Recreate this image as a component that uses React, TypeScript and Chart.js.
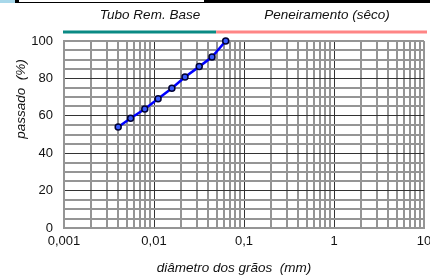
import React, { useEffect, useRef } from "react";
import { Chart, registerables } from "chart.js";

Chart.register(...registerables);

const grainSize = [0.004, 0.0055, 0.0079, 0.0111, 0.0158, 0.0221, 0.0318, 0.0441, 0.0626];
const passing = [54.0, 58.7, 63.6, 69.1, 74.7, 80.7, 86.3, 91.4, 100];

const decades = [0.001, 0.01, 0.1, 1, 10];
const decadeLabels = ["0,001", "0,01", "0,1", "1", "10"];
const yTickValues = [0, 5, 10, 15, 20, 25, 30, 35, 40, 45, 50, 55, 60, 65, 70, 75, 80, 85, 90, 95, 100];
const yLabelValues = [0, 20, 40, 60, 80, 100];

const zoneNames = ["Tubo Rem. Base", "Peneiramento (sêco)"];
const zoneBoundary = 0.049;
const zoneColors = ["#0a8a84", "#ff8585"];

const xTitle = "diâmetro dos grãos  (mm)";
const yTitle = "passado  (%)";

const FONT = "'Liberation Sans', Arial, sans-serif";

function buildXTicks(): number[] {
  const out: number[] = [];
  for (let i = 0; i < decades.length - 1; i++) {
    for (let m = 1; m <= 9; m++) out.push(+(decades[i] * m).toPrecision(6));
  }
  out.push(decades[decades.length - 1]);
  return out;
}

function isDecade(v: number) {
  return decades.some((d) => Math.abs(v - d) / d < 1e-6);
}

const overlay = {
  id: "overlay",
  afterDraw(chart: any) {
    const { ctx, chartArea, scales } = chart;
    const xs = scales.x;
    ctx.save();
    // top spreadsheet strip
    ctx.fillStyle = "#000";
    ctx.fillRect(0, 0, 430, 3);
    ctx.fillStyle = "#fff";
    ctx.fillRect(19, 0, 185, 2);
    ctx.fillStyle = "#a8d8ea";
    ctx.fillRect(0, 0, 15, 3);

    // zone bands
    const bx = xs.getPixelForValue(zoneBoundary);
    ctx.lineWidth = 3;
    ctx.strokeStyle = zoneColors[0];
    ctx.beginPath();
    ctx.moveTo(chartArea.left - 1, 32);
    ctx.lineTo(bx, 32);
    ctx.stroke();
    ctx.strokeStyle = zoneColors[1];
    ctx.beginPath();
    ctx.moveTo(bx, 32);
    ctx.lineTo(chartArea.right + 3, 32);
    ctx.stroke();

    ctx.fillStyle = "#111";
    ctx.font = `italic 13.5px ${FONT}`;
    ctx.textAlign = "center";
    ctx.textBaseline = "middle";
    ctx.fillText(zoneNames[0], 150, 15);
    ctx.fillText(zoneNames[1], 327, 15);

    // axis titles
    ctx.fillText(xTitle, 234, 268);
    ctx.save();
    ctx.translate(21, 99);
    ctx.rotate(-Math.PI / 2);
    ctx.fillText(yTitle, 0, 0);
    ctx.restore();
    ctx.restore();
  },
};

export default function App() {
  const ref = useRef<HTMLCanvasElement>(null);
  useEffect(() => {
    document.body.style.margin = "0";
    const xTicks = buildXTicks();
    const chart = new Chart(ref.current!, {
      type: "scatter",
      data: {
        datasets: [
          {
            data: grainSize.map((x, i) => ({ x, y: passing[i] })),
            showLine: true,
            borderColor: "#0000ff",
            borderWidth: 2.5,
            pointRadius: 3,
            pointBorderWidth: 1.5,
            pointBorderColor: "#000033",
            pointBackgroundColor: "#3a5cff",
            tension: 0,
            clip: 6,
          } as any,
        ],
      },
      options: {
        responsive: false,
        animation: false,
        layout: { padding: { top: 41, right: 6, left: 0, bottom: 0 } },
        plugins: { legend: { display: false }, tooltip: { enabled: false } },
        scales: {
          x: {
            type: "logarithmic",
            min: 0.001,
            max: 10,
            afterBuildTicks: (s: any) => {
              s.ticks = xTicks.map((v) => ({ value: v, major: isDecade(v) }));
            },
            afterFit: (s: any) => {
              s.height = 48;
              s.paddingLeft = 0;
              s.paddingRight = 0;
            },
            ticks: {
              autoSkip: false,
              maxRotation: 0,
              minRotation: 0,
              padding: 6,
              color: "#111",
              font: { family: FONT, size: 13 },
              callback: (v: any) => {
                const i = decades.findIndex((d) => Math.abs(Number(v) - d) / d < 1e-6);
                return i >= 0 ? decadeLabels[i] : "";
              },
            },
            grid: {
              drawTicks: false,
              color: (c: any) => {
                const v = c.tick?.value;
                if (v === undefined) return "#999";
                if (isDecade(v) && v !== 0.001 && v !== 10) return "#333";
                return "#959595";
              },
              lineWidth: (c: any) => {
                const v = c.tick?.value;
                if (v !== undefined && isDecade(v) && v !== 0.001 && v !== 10) return 1;
                return 2;
              },
            },
            border: { display: true, color: "#959595", width: 2 },
          },
          y: {
            type: "linear",
            min: 0,
            max: 100,
            afterBuildTicks: (s: any) => {
              s.ticks = yTickValues.map((v) => ({ value: v }));
            },
            afterFit: (s: any) => {
              s.width = 64;
            },
            ticks: {
              autoSkip: false,
              padding: 11,
              color: "#111",
              font: { family: FONT, size: 13 },
              callback: (v: any) => (yLabelValues.includes(Number(v)) ? String(v) : ""),
            },
            grid: {
              drawTicks: false,
              color: (c: any) => {
                const v = c.tick?.value;
                if (v !== undefined && v % 20 === 0 && v !== 0 && v !== 100) return "#333";
                return "#959595";
              },
              lineWidth: (c: any) => {
                const v = c.tick?.value;
                if (v !== undefined && v % 20 === 0 && v !== 0 && v !== 100) return 1;
                return 2;
              },
            },
            border: { display: true, color: "#959595", width: 2 },
          },
        },
      },
      plugins: [overlay],
    });
    return () => chart.destroy();
  }, []);
  return (
    <div style={{ position: "absolute", left: 0, top: 0, width: 430, height: 276, background: "#fff" }}>
      <canvas ref={ref} width={430} height={276} style={{ display: "block" }} />
    </div>
  );
}
